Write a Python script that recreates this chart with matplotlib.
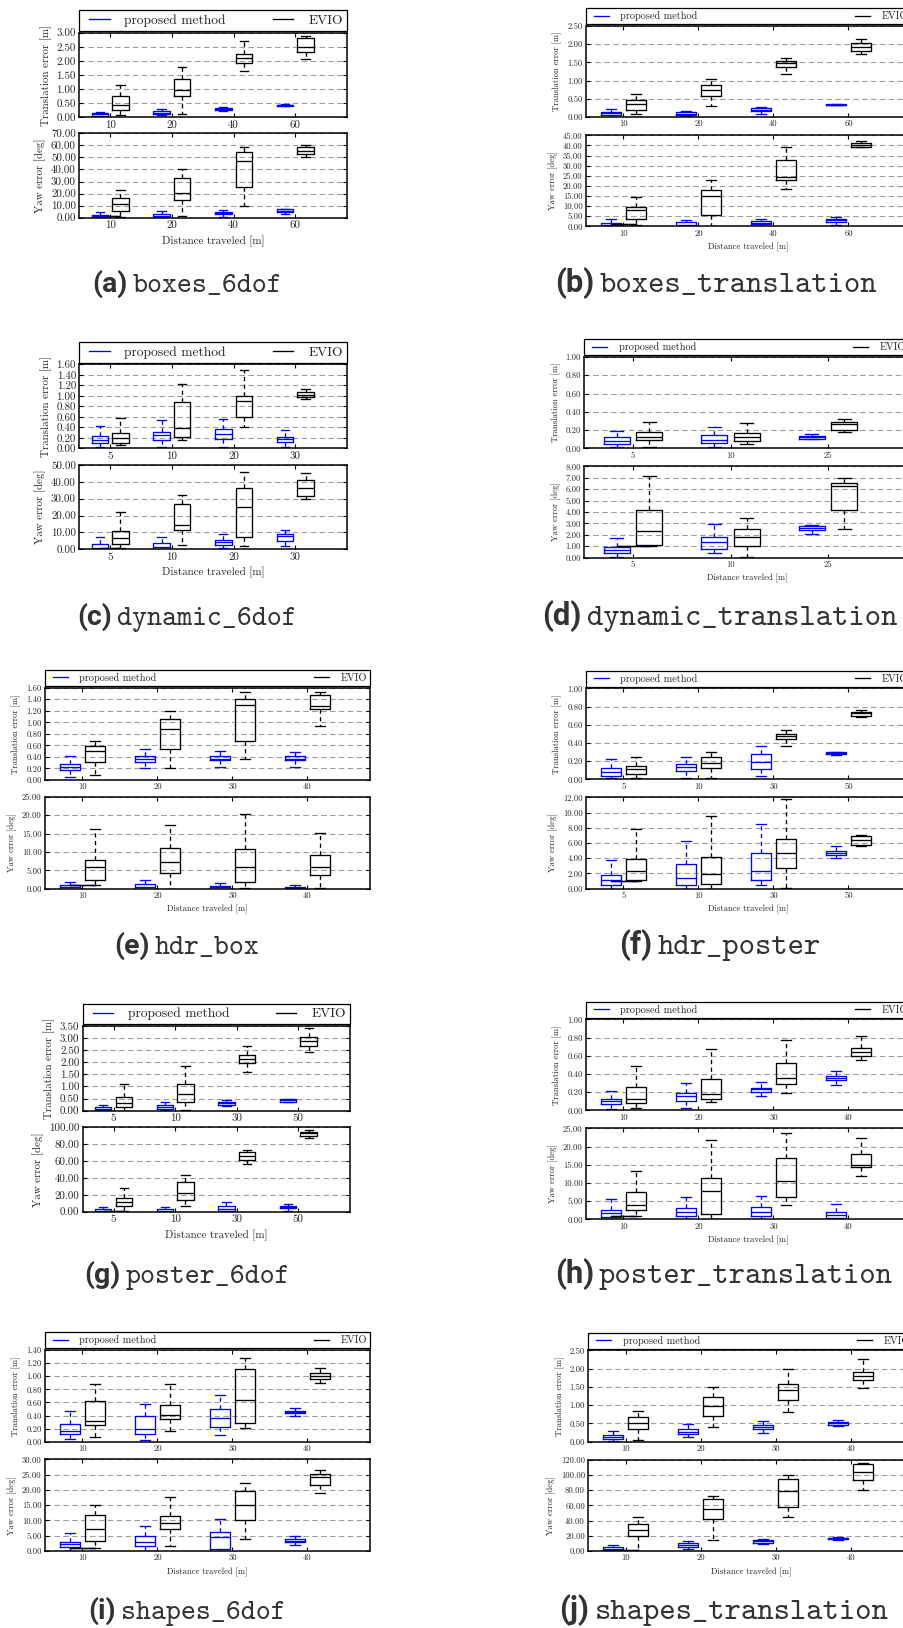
import matplotlib
matplotlib.use("Agg")
import matplotlib.pyplot as plt
from matplotlib.ticker import FormatStrFormatter, MultipleLocator
from matplotlib.legend_handler import HandlerLine2D

plt.rcParams.update({
    "font.family": "cmr10",
    "axes.unicode_minus": False,
    "axes.formatter.use_mathtext": True,
    "mathtext.fontset": "cm",
})

# ---------------------------------------------------------------------------
# Box statistics: one tuple per distance -> (whisker low, Q1, median, Q3, whisker high)
# ---------------------------------------------------------------------------
# (a) boxes_6dof
A_DIST = [10, 20, 40, 60]
A_TRANS_PROP = [(0.02, 0.06, 0.10, 0.14, 0.20), (0.07, 0.12, 0.16, 0.21, 0.28),
                (0.24, 0.26, 0.30, 0.34, 0.38), (0.39, 0.40, 0.42, 0.45, 0.47)]
A_TRANS_EVIO = [(0.08, 0.26, 0.43, 0.77, 1.16), (0.10, 0.74, 0.97, 1.35, 1.80),
                (1.65, 1.93, 2.10, 2.25, 2.69), (2.07, 2.32, 2.49, 2.81, 2.90)]
A_YAW_PROP = [(0.0, 0.3, 1.2, 2.5, 4.5), (0.0, 0.2, 1.0, 2.8, 5.5),
              (0.5, 2.8, 3.9, 5.0, 6.1), (3.3, 4.4, 5.5, 6.9, 7.5)]
A_YAW_EVIO = [(0.5, 5.8, 11.1, 16.1, 22.8), (1.0, 15.0, 20.8, 33.3, 40.3),
              (9.7, 25.8, 46.7, 54.7, 58.9), (50.0, 53.1, 55.6, 58.3, 60.0)]

# (b) boxes_translation
B_DIST = [10, 20, 40, 60]
B_TRANS_PROP = [(0.01, 0.05, 0.10, 0.15, 0.23), (0.03, 0.055, 0.09, 0.13, 0.17),
                (0.07, 0.16, 0.20, 0.25, 0.28), (0.32, 0.32, 0.335, 0.35, 0.36)]
B_TRANS_EVIO = [(0.07, 0.19, 0.35, 0.46, 0.62), (0.31, 0.57, 0.73, 0.87, 1.05),
                (1.19, 1.37, 1.48, 1.55, 1.63), (1.74, 1.82, 1.92, 2.04, 2.13)]
B_YAW_PROP = [(0.0, 0.0, 0.8, 1.8, 3.8), (0.0, 0.0, 0.7, 2.0, 3.3),
              (0.3, 1.0, 1.8, 2.8, 3.6), (0.5, 2.0, 3.1, 3.6, 4.4)]
B_YAW_EVIO = [(0.7, 3.5, 8.1, 9.6, 14.5), (0.0, 5.6, 15.0, 17.8, 23.1),
              (18.5, 22.7, 24.5, 32.6, 39.2), (39.0, 39.4, 40.0, 41.0, 42.0)]

# (c) dynamic_6dof
C_DIST = [5, 10, 20, 30]
C_TRANS_PROP = [(0.02, 0.095, 0.16, 0.235, 0.43), (0.03, 0.16, 0.25, 0.31, 0.53),
                (0.02, 0.18, 0.27, 0.36, 0.56), (0.03, 0.12, 0.18, 0.22, 0.34)]
C_TRANS_EVIO = [(0.06, 0.11, 0.20, 0.30, 0.58), (0.16, 0.22, 0.38, 0.89, 1.22),
                (0.41, 0.59, 0.90, 0.99, 1.50), (0.93, 0.98, 1.01, 1.07, 1.13)]
C_YAW_PROP = [(0.0, 0.0, 1.0, 3.4, 7.3), (0.0, 0.2, 1.4, 4.0, 7.3),
              (0.6, 2.6, 4.2, 5.4, 9.3), (1.8, 5.2, 7.9, 8.9, 11.3)]
C_YAW_EVIO = [(1.0, 3.4, 6.5, 11.1, 22.0), (2.8, 11.3, 14.7, 26.6, 32.3),
              (2.0, 7.5, 25.0, 36.5, 45.6), (30.0, 31.7, 36.3, 41.3, 45.0)]

# (d) dynamic_translation
D_DIST = [5, 10, 25]
D_TRANS_PROP = [(0.015, 0.044, 0.08, 0.128, 0.19), (0.018, 0.055, 0.09, 0.15, 0.23),
                (0.10, 0.106, 0.12, 0.13, 0.153)]
D_TRANS_EVIO = [(0.018, 0.09, 0.12, 0.18, 0.285), (0.044, 0.077, 0.128, 0.165, 0.28),
                (0.175, 0.20, 0.263, 0.285, 0.325)]
D_YAW_PROP = [(0.03, 0.38, 0.67, 0.90, 1.75), (0.44, 0.76, 1.37, 1.84, 2.95),
              (2.04, 2.42, 2.60, 2.77, 2.85)]
D_YAW_EVIO = [(1.02, 1.11, 2.31, 4.18, 7.18), (0.09, 1.02, 1.81, 2.48, 3.50),
              (2.54, 4.15, 6.25, 6.51, 7.00)]

# (e) hdr_box
E_DIST = [10, 20, 30, 40]
E_TRANS_PROP = [(0.047, 0.175, 0.22, 0.28, 0.41), (0.20, 0.32, 0.36, 0.41, 0.54),
                (0.23, 0.34, 0.37, 0.42, 0.50), (0.23, 0.34, 0.37, 0.41, 0.48)]
E_TRANS_EVIO = [(0.08, 0.31, 0.50, 0.59, 0.675), (0.20, 0.535, 0.89, 1.065, 1.19),
                (0.37, 0.68, 1.30, 1.40, 1.53), (0.94, 1.233, 1.286, 1.48, 1.52)]
E_YAW_PROP = [(0.0, 0.0, 0.45, 1.0, 1.74), (0.0, 0.0, 0.5, 1.2, 2.3),
              (0.0, 0.05, 0.35, 0.8, 1.56), (0.0, 0.05, 0.25, 0.55, 0.9)]
E_YAW_EVIO = [(1.0, 2.3, 5.8, 7.9, 16.1), (0.0, 4.2, 7.2, 11.0, 17.4),
              (0.2, 1.7, 5.8, 10.9, 20.4), (0.2, 3.8, 6.0, 9.2, 15.1)]

# (f) hdr_poster
F_DIST = [5, 10, 30, 50]
F_TRANS_PROP = [(0.01, 0.037, 0.08, 0.12, 0.224), (0.015, 0.095, 0.14, 0.165, 0.243),
                (0.037, 0.11, 0.19, 0.283, 0.37), (0.27, 0.28, 0.287, 0.298, 0.30)]
F_TRANS_EVIO = [(0.01, 0.055, 0.11, 0.15, 0.25), (0.018, 0.12, 0.176, 0.24, 0.305),
                (0.37, 0.445, 0.474, 0.50, 0.544), (0.69, 0.70, 0.724, 0.74, 0.76)]
F_YAW_PROP = [(0.0, 0.44, 1.14, 1.75, 3.72), (0.0, 0.44, 1.4, 3.28, 6.3),
              (0.53, 1.1, 2.37, 4.73, 8.5), (4.07, 4.42, 4.73, 4.99, 5.65)]
F_YAW_EVIO = [(1.0, 1.1, 2.28, 3.85, 7.9), (0.0, 0.57, 1.97, 4.2, 9.55),
              (0.09, 2.76, 4.73, 6.53, 11.74), (5.65, 5.74, 6.35, 6.88, 7.0)]

# (g) poster_6dof
G_DIST = [5, 10, 30, 50]
G_TRANS_PROP = [(0.0, 0.01, 0.08, 0.15, 0.25), (0.03, 0.07, 0.15, 0.22, 0.37),
                (0.18, 0.23, 0.32, 0.37, 0.44), (0.37, 0.37, 0.43, 0.47, 0.48)]
G_TRANS_EVIO = [(0.0, 0.17, 0.32, 0.55, 1.09), (0.04, 0.37, 0.68, 1.09, 1.85),
                (1.58, 1.96, 2.14, 2.29, 2.67), (2.41, 2.69, 2.87, 3.03, 3.43)]
G_YAW_PROP = [(0.0, 0.0, 1.2, 2.8, 5.1), (0.0, 0.0, 1.2, 2.8, 5.1),
              (0.0, 0.8, 3.2, 7.1, 11.0), (0.8, 4.0, 5.5, 7.1, 8.7)]
G_YAW_EVIO = [(0.8, 6.7, 11.1, 15.8, 28.0), (7.0, 13.8, 21.7, 34.8, 43.5),
              (56.9, 61.7, 65.6, 70.4, 73.5), (87.0, 90.1, 92.9, 94.9, 96.8)]

# (h) poster_translation
H_DIST = [10, 20, 30, 40]
H_TRANS_PROP = [(0.01, 0.07, 0.10, 0.128, 0.212), (0.02, 0.106, 0.16, 0.187, 0.304),
                (0.157, 0.20, 0.23, 0.25, 0.308), (0.278, 0.33, 0.355, 0.377, 0.436)]
H_TRANS_EVIO = [(0.022, 0.077, 0.12, 0.26, 0.49), (0.092, 0.128, 0.18, 0.348, 0.674),
                (0.19, 0.293, 0.352, 0.524, 0.773), (0.557, 0.593, 0.637, 0.689, 0.813)]
H_YAW_PROP = [(0.0, 0.64, 1.65, 2.56, 5.5), (0.0, 0.82, 1.92, 3.0, 6.0),
              (0.0, 0.82, 2.1, 3.3, 6.3), (0.0, 0.46, 1.2, 2.1, 4.2)]
H_YAW_EVIO = [(0.9, 2.5, 3.85, 7.5, 13.2), (0.0, 1.37, 7.7, 11.45, 21.8),
              (3.9, 6.2, 10.4, 16.9, 23.7), (11.9, 14.4, 15.0, 17.86, 22.25)]

# (i) shapes_6dof
I_DIST = [10, 20, 30, 40]
I_TRANS_PROP = [(0.046, 0.117, 0.163, 0.265, 0.47), (0.03, 0.112, 0.188, 0.387, 0.58),
                (0.10, 0.219, 0.36, 0.494, 0.708), (0.40, 0.443, 0.458, 0.474, 0.51)]
I_TRANS_EVIO = [(0.076, 0.255, 0.31, 0.616, 0.88), (0.158, 0.341, 0.407, 0.555, 0.876),
                (0.204, 0.28, 0.631, 1.11, 1.273), (0.896, 0.957, 1.003, 1.044, 1.125)]
I_YAW_PROP = [(0.0, 1.2, 2.3, 3.05, 5.8), (0.0, 1.5, 3.05, 4.8, 8.1),
              (0.0, 0.65, 4.5, 6.3, 10.6), (1.85, 2.8, 3.3, 3.8, 4.8)]
I_YAW_EVIO = [(1.0, 3.3, 7.2, 11.8, 15.2), (1.6, 7.1, 9.05, 11.3, 17.6),
              (3.8, 10.0, 14.9, 19.6, 22.2), (18.9, 21.7, 24.3, 25.3, 26.6)]

# (j) shapes_translation
J_DIST = [10, 20, 30, 40]
J_TRANS_PROP = [(0.03, 0.07, 0.13, 0.18, 0.29), (0.13, 0.20, 0.27, 0.34, 0.48),
                (0.24, 0.35, 0.40, 0.46, 0.56), (0.43, 0.47, 0.51, 0.55, 0.60)]
J_TRANS_EVIO = [(0.05, 0.34, 0.50, 0.68, 0.85), (0.39, 0.71, 0.985, 1.21, 1.50),
                (0.81, 1.13, 1.41, 1.59, 1.99), (1.47, 1.69, 1.81, 1.92, 2.25)]
J_YAW_PROP = [(0.0, 0.9, 3.1, 5.3, 8.3), (3.1, 5.7, 7.9, 10.1, 13.1),
              (8.8, 10.9, 12.7, 14.5, 16.2), (14.9, 15.8, 16.6, 17.5, 18.4)]
J_YAW_EVIO = [(0.4, 19.3, 27.6, 35.5, 45.1), (14.9, 41.6, 55.6, 67.9, 72.3),
              (44.2, 57.8, 79.3, 95.1, 99.9), (79.7, 92.9, 104.2, 113.9, 115.2)]

LABELS = ["proposed method", "EVIO"]
COLORS = ["blue", "black"]
HANDLE_Y = 1.0  # level of the legend handle lines on the yaw axes

# ---------------------------------------------------------------------------
# Layout (pixels of the 904 x 1628 canvas)
# ---------------------------------------------------------------------------
W, H = 904, 1628
PANELS = [
    dict(tag="(a)", name="boxes_6dof", dist=A_DIST, data=(A_TRANS_PROP, A_TRANS_EVIO, A_YAW_PROP, A_YAW_EVIO),
         x0=79.3, w=267.4, top=(32.7, 117.3), bot=(133.3, 217.7), leg=31.0, big=True,
         tlim=(3.0, 0.5), ylim=(70, 10), cap=(187, 284)),
    dict(tag="(b)", name="boxes_translation", dist=B_DIST, data=(B_TRANS_PROP, B_TRANS_EVIO, B_YAW_PROP, B_YAW_EVIO),
         x0=586.0, w=325.0, top=(26.0, 117.0), bot=(135.3, 226.3), leg=24.3, big=False,
         tlim=(2.5, 0.5), ylim=(45, 5), cap=(716, 284)),
    dict(tag="(c)", name="dynamic_6dof", dist=C_DIST, data=(C_TRANS_PROP, C_TRANS_EVIO, C_YAW_PROP, C_YAW_EVIO),
         x0=79.3, w=267.4, top=(364.3, 448.3), bot=(465.0, 549.3), leg=363.0, big=True,
         tlim=(1.6, 0.2), ylim=(50, 10), cap=(187, 617)),
    dict(tag="(d)", name="dynamic_translation", dist=D_DIST, data=(D_TRANS_PROP, D_TRANS_EVIO, D_YAW_PROP, D_YAW_EVIO),
         x0=584.3, w=325.0, top=(357.0, 448.3), bot=(466.3, 557.7), leg=355.3, big=False,
         tlim=(1.0, 0.2), ylim=(8, 1), cap=(720, 617)),
    dict(tag="(e)", name="hdr_box", dist=E_DIST, data=(E_TRANS_PROP, E_TRANS_EVIO, E_YAW_PROP, E_YAW_EVIO),
         x0=45.0, w=325.0, top=(687.7, 780.0), bot=(796.7, 888.7), leg=686.0, big=False,
         tlim=(1.6, 0.2), ylim=(25, 5), cap=(187, 946)),
    dict(tag="(f)", name="hdr_poster", dist=F_DIST, data=(F_TRANS_PROP, F_TRANS_EVIO, F_YAW_PROP, F_YAW_EVIO),
         x0=586.0, w=325.0, top=(688.3, 779.3), bot=(797.3, 888.7), leg=686.7, big=False,
         tlim=(1.0, 0.2), ylim=(12, 2), cap=(720, 946)),
    dict(tag="(g)", name="poster_6dof", dist=G_DIST, data=(G_TRANS_PROP, G_TRANS_EVIO, G_YAW_PROP, G_YAW_EVIO),
         x0=82.7, w=267.0, top=(1026.0, 1110.7), bot=(1127.3, 1211.7), leg=1024.3, big=True,
         tlim=(3.5, 0.5), ylim=(100, 20), cap=(187, 1275)),
    dict(tag="(h)", name="poster_translation", dist=H_DIST, data=(H_TRANS_PROP, H_TRANS_EVIO, H_YAW_PROP, H_YAW_EVIO),
         x0=586.0, w=325.0, top=(1019.3, 1110.3), bot=(1128.3, 1219.3), leg=1017.7, big=False,
         tlim=(1.0, 0.2), ylim=(25, 5), cap=(724, 1275)),
    dict(tag="(i)", name="shapes_6dof", dist=I_DIST, data=(I_TRANS_PROP, I_TRANS_EVIO, I_YAW_PROP, I_YAW_EVIO),
         x0=45.0, w=325.0, top=(1350.0, 1441.7), bot=(1459.3, 1551.0), leg=1348.3, big=False,
         tlim=(1.4, 0.2), ylim=(30, 5), cap=(187, 1611)),
    dict(tag="(j)", name="shapes_translation", dist=J_DIST, data=(J_TRANS_PROP, J_TRANS_EVIO, J_YAW_PROP, J_YAW_EVIO),
         x0=588.3, w=325.0, top=(1350.3, 1441.7), bot=(1459.7, 1551.0), leg=1348.7, big=False,
         tlim=(2.5, 0.5), ylim=(120, 20), cap=(724, 1611)),
]

LW = 0.95
TEXT_COLOR = "#262626"
CAP_FS_LEFT = 20.5
CAP_FS_RIGHT = 22.4
TAG_FAMILY = ["Liberation Sans Narrow", "Roboto"]


def box_stats(rows):
    return [dict(whislo=r[0], q1=r[1], med=r[2], q3=r[3], whishi=r[4]) for r in rows]


def draw_boxes(ax, rows, pos, color):
    ax.bxp(box_stats(rows), positions=pos, widths=0.8, showfliers=False,
           manage_ticks=False,
           boxprops=dict(color=color, lw=LW),
           whiskerprops=dict(color=color, lw=LW, ls=(0, (3.2, 2.6))),
           capprops=dict(color=color, lw=LW),
           medianprops=dict(color=color, lw=LW))


def style_axes(ax, dist, ticks, xmax, ymax, ystep, fs):
    ax.set_xlim(0, xmax)
    ax.set_ylim(0, ymax)
    ax.set_xticks(ticks)
    ax.set_xticklabels([str(d) for d in dist])
    ax.yaxis.set_major_locator(MultipleLocator(ystep))
    ax.yaxis.set_major_formatter(FormatStrFormatter("%.2f"))
    ax.tick_params(direction="in", top=True, right=True, length=3, width=0.8,
                   labelsize=fs, labelcolor=TEXT_COLOR)
    ax.tick_params(axis="y", pad=2.4)
    ax.tick_params(axis="x", pad=2.2)
    ax.yaxis.grid(True, ls=(0, (5, 3)), color="0.62", lw=0.8)
    ax.set_axisbelow(True)
    for s in ax.spines.values():
        s.set_linewidth(1.1)


def px_axes(fig, x0, w, y0, y1):
    return fig.add_axes([x0 / W, 1 - y1 / H, w / W, (y1 - y0) / H])


fig = plt.figure(figsize=(W / 100, H / 100), dpi=100)

for p in PANELS:
    fs = 7.9 if p["big"] else 6.2
    lfs = 9.7 if p["big"] else 7.4
    n = len(p["dist"])
    pos_p = [3 * i + 1 for i in range(n)]
    pos_e = [3 * i + 2 for i in range(n)]
    ticks = [3 * i + 1.5 for i in range(n)]
    xmax = 3 * n + 1
    trans_p, trans_e, yaw_p, yaw_e = p["data"]

    ax_t = px_axes(fig, p["x0"], p["w"], *p["top"])
    ax_y = px_axes(fig, p["x0"], p["w"], *p["bot"])

    draw_boxes(ax_t, trans_p, pos_p, COLORS[0])
    draw_boxes(ax_t, trans_e, pos_e, COLORS[1])
    draw_boxes(ax_y, yaw_p, pos_p, COLORS[0])
    draw_boxes(ax_y, yaw_e, pos_e, COLORS[1])

    style_axes(ax_t, p["dist"], ticks, xmax, p["tlim"][0], p["tlim"][1], fs)
    style_axes(ax_y, p["dist"], ticks, xmax, p["ylim"][0], p["ylim"][1], fs)

    ax_t.set_ylabel("Translation error [m]", fontsize=fs, color=TEXT_COLOR, labelpad=3.5)
    ax_y.set_ylabel("Yaw error [deg]", fontsize=fs, color=TEXT_COLOR, labelpad=3.5)
    ax_y.set_xlabel("Distance traveled [m]", fontsize=fs, color=TEXT_COLOR, labelpad=3.5)

    # lines that serve as legend handles
    hB, = ax_y.plot([pos_p[0], pos_e[0]], [HANDLE_Y, HANDLE_Y], color=COLORS[0], lw=LW)
    hK, = ax_y.plot([pos_p[0], pos_e[0]], [HANDLE_Y, HANDLE_Y], color=COLORS[1], lw=LW)

    leg = ax_t.legend([hB, hK], LABELS, loc="lower left",
                      bbox_to_anchor=(p["x0"] / W, 1 - p["leg"] / H, p["w"] / W, 0.001),
                      bbox_transform=fig.transFigure, mode="expand", ncol=2,
                      borderaxespad=0, fontsize=lfs, borderpad=0.3,
                      handlelength=1.95, handletextpad=1.1, fancybox=False,
                      framealpha=1, edgecolor="black",
                      handler_map={hB: HandlerLine2D(xpad=0.45), hK: HandlerLine2D(xpad=0.45)})
    leg.get_frame().set_linewidth(0.9)
    for t in leg.get_texts():
        t.set_color(TEXT_COLOR)

# sub-figure captions: bold tag followed by the sequence name in typewriter type
renderer = fig.canvas.get_renderer()
for p in PANELS:
    cx, cy = p["cap"]
    cfs = CAP_FS_LEFT if cx < W / 2 else CAP_FS_RIGHT
    tag = fig.text(0, 0, p["tag"], family=TAG_FAMILY, fontweight="bold", fontsize=cfs,
                   color="#333333", va="baseline")
    name = fig.text(0, 0, p["name"], family="cmtt10", fontsize=cfs,
                    color="#333333", va="baseline")
    wt = tag.get_window_extent(renderer).width
    wn = name.get_window_extent(renderer).width
    gap = 5
    x_start = cx - (wt + gap + wn) / 2
    base = cy + 8
    tag.set_position((x_start / W, 1 - base / H))
    name.set_position(((x_start + wt + gap) / W, 1 - base / H))

fig.savefig("out.png", dpi=100)
